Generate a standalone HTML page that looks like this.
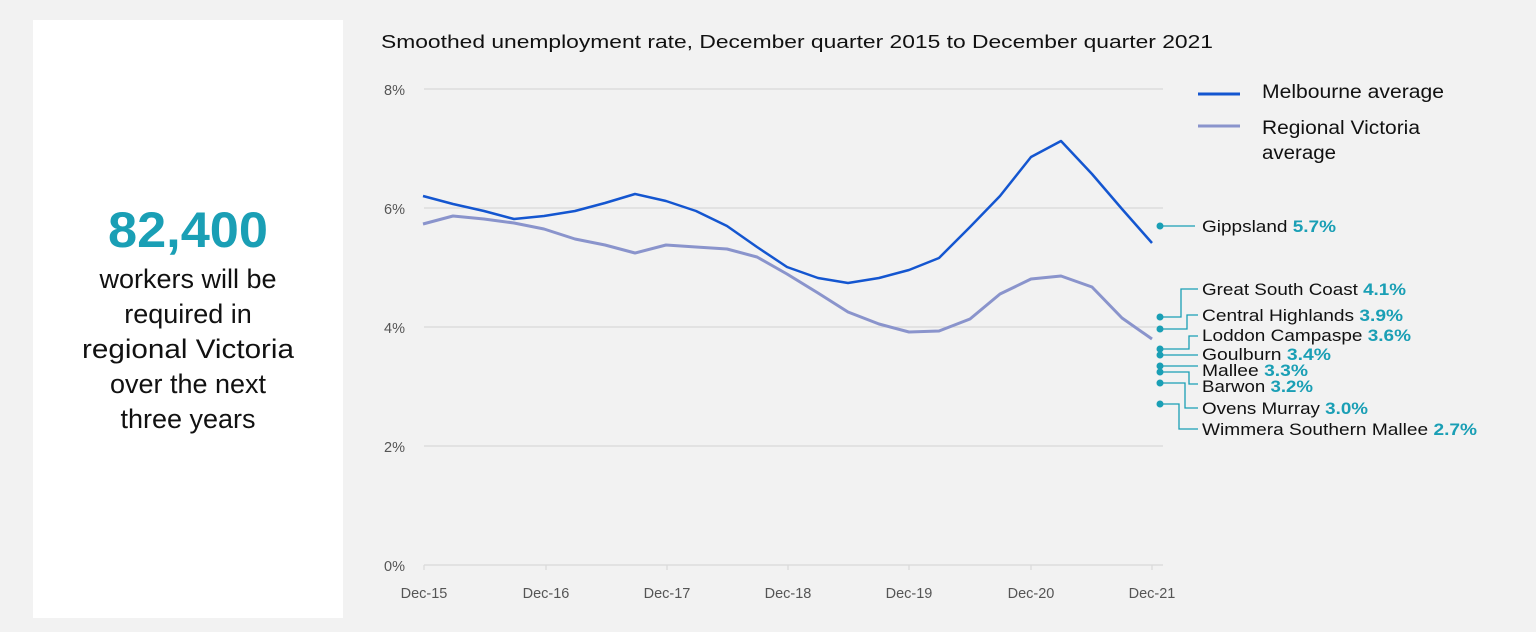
<!DOCTYPE html>
<html><head><meta charset="utf-8"><style>
html,body{margin:0;padding:0;background:#f2f2f2;}
svg{display:block;font-family:"Liberation Sans",sans-serif;}
</style></head><body>
<svg width="1536" height="632" viewBox="0 0 1536 632" xmlns="http://www.w3.org/2000/svg">
<rect width="1536" height="632" fill="#f2f2f2"/>
<rect x="33" y="20" width="310" height="598" fill="#ffffff"/>
<text x="188" y="247" text-anchor="middle" font-size="50" font-weight="bold" fill="#1a9fb5" textLength="160" lengthAdjust="spacingAndGlyphs">82,400</text>
<g font-size="27" fill="#111" text-anchor="middle">
<text x="188" y="288">workers will be</text>
<text x="188" y="323">required in</text>
<text x="188" y="358" textLength="212" lengthAdjust="spacingAndGlyphs">regional Victoria</text>
<text x="188" y="393">over the next</text>
<text x="188" y="428">three years</text>
</g>
<text x="381" y="48" font-size="18" fill="#111" textLength="832" lengthAdjust="spacingAndGlyphs">Smoothed unemployment rate, December quarter 2015 to December quarter 2021</text>
<g stroke="#d9d9d9" stroke-width="1.2">
<line x1="424" y1="89" x2="1163" y2="89"/>
<line x1="424" y1="208" x2="1163" y2="208"/>
<line x1="424" y1="327" x2="1163" y2="327"/>
<line x1="424" y1="446" x2="1163" y2="446"/>
<line x1="424" y1="565" x2="1163" y2="565"/>
<line x1="424" y1="565" x2="424" y2="570"/><line x1="546" y1="565" x2="546" y2="570"/>
<line x1="667" y1="565" x2="667" y2="570"/><line x1="788" y1="565" x2="788" y2="570"/>
<line x1="909" y1="565" x2="909" y2="570"/><line x1="1031" y1="565" x2="1031" y2="570"/>
<line x1="1152" y1="565" x2="1152" y2="570"/>
</g>
<g font-size="14.5" fill="#555" text-anchor="end">
<text x="405" y="95">8%</text><text x="405" y="214">6%</text><text x="405" y="333">4%</text>
<text x="405" y="452">2%</text><text x="405" y="571">0%</text>
</g>
<g font-size="14.5" fill="#555" text-anchor="middle">
<text x="424" y="598">Dec-15</text><text x="546" y="598">Dec-16</text><text x="667" y="598">Dec-17</text>
<text x="788" y="598">Dec-18</text><text x="909" y="598">Dec-19</text><text x="1031" y="598">Dec-20</text>
<text x="1152" y="598">Dec-21</text>
</g>
<polyline fill="none" stroke="#8a94cc" stroke-width="3" stroke-linejoin="round" points="423,224 453,216 484,219 514,223 544,229 575,239 605,245 635,253 666,245 696,247 727,249 757,257 787,274 818,293 848,312 879,324 909,332 939,331 970,319 1000,294 1031,279 1061,276 1092,287 1122,318 1152,339"/>
<polyline fill="none" stroke="#1456d0" stroke-width="2.5" stroke-linejoin="round" points="423,196 453,204 484,211 514,219 544,216 575,211 605,203 635,194 666,201 696,211 727,226 757,247 787,267 818,278 848,283 879,278 909,270 939,258 970,227 1000,196 1031,157 1061,141 1092,174 1122,209 1152,243"/>
<line x1="1198" y1="94" x2="1240" y2="94" stroke="#1456d0" stroke-width="3"/>
<line x1="1198" y1="126" x2="1240" y2="126" stroke="#8a94cc" stroke-width="3"/>
<g font-size="19" fill="#111">
<text x="1262" y="98" textLength="182" lengthAdjust="spacingAndGlyphs">Melbourne average</text>
<text x="1262" y="134" textLength="158" lengthAdjust="spacingAndGlyphs">Regional Victoria</text>
<text x="1262" y="159" textLength="74" lengthAdjust="spacingAndGlyphs">average</text>
</g>
<g stroke="#1a9fb5" stroke-width="1.3" fill="none">
<line x1="1160" y1="226" x2="1195" y2="226"/>
<polyline points="1160,317 1181,317 1181,289 1198,289"/>
<polyline points="1160,329 1187,329 1187,315 1198,315"/>
<polyline points="1160,349 1189,349 1189,336 1198,336"/>
<polyline points="1160,355 1198,355"/>
<polyline points="1160,366 1198,366"/>
<polyline points="1160,372 1189,372 1189,384 1198,384"/>
<polyline points="1160,383 1185,383 1185,408 1198,408"/>
<polyline points="1160,404 1179,404 1179,429 1198,429"/>
</g>
<g fill="#1a9fb5">
<circle cx="1160" cy="226" r="3.5"/><circle cx="1160" cy="317" r="3.5"/><circle cx="1160" cy="329" r="3.5"/>
<circle cx="1160" cy="349" r="3.5"/><circle cx="1160" cy="355" r="3.5"/><circle cx="1160" cy="366" r="3.5"/>
<circle cx="1160" cy="372" r="3.5"/><circle cx="1160" cy="383" r="3.5"/><circle cx="1160" cy="404" r="3.5"/>
</g>
<g font-size="16.5" fill="#111">
<text x="1202" y="232" textLength="134" lengthAdjust="spacingAndGlyphs">Gippsland <tspan fill="#1a9fb5" font-weight="bold">5.7%</tspan></text>
<text x="1202" y="295" textLength="204" lengthAdjust="spacingAndGlyphs">Great South Coast <tspan fill="#1a9fb5" font-weight="bold">4.1%</tspan></text>
<text x="1202" y="321" textLength="201" lengthAdjust="spacingAndGlyphs">Central Highlands <tspan fill="#1a9fb5" font-weight="bold">3.9%</tspan></text>
<text x="1202" y="341" textLength="209" lengthAdjust="spacingAndGlyphs">Loddon Campaspe <tspan fill="#1a9fb5" font-weight="bold">3.6%</tspan></text>
<text x="1202" y="360" textLength="129" lengthAdjust="spacingAndGlyphs">Goulburn <tspan fill="#1a9fb5" font-weight="bold">3.4%</tspan></text>
<text x="1202" y="376" textLength="106" lengthAdjust="spacingAndGlyphs">Mallee <tspan fill="#1a9fb5" font-weight="bold">3.3%</tspan></text>
<text x="1202" y="392" textLength="111" lengthAdjust="spacingAndGlyphs">Barwon <tspan fill="#1a9fb5" font-weight="bold">3.2%</tspan></text>
<text x="1202" y="414" textLength="166" lengthAdjust="spacingAndGlyphs">Ovens Murray <tspan fill="#1a9fb5" font-weight="bold">3.0%</tspan></text>
<text x="1202" y="435" textLength="275" lengthAdjust="spacingAndGlyphs">Wimmera Southern Mallee <tspan fill="#1a9fb5" font-weight="bold">2.7%</tspan></text>
</g>
</svg>
</body></html>
